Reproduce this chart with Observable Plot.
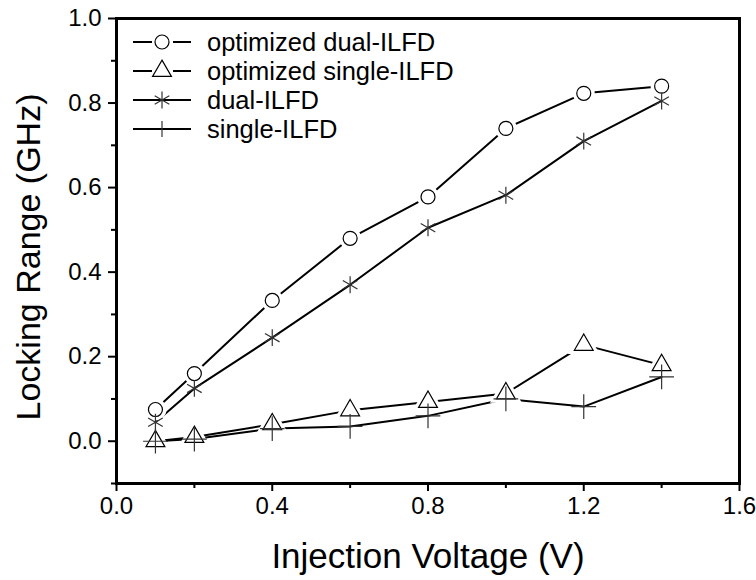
<!DOCTYPE html>
<html><head><meta charset="utf-8">
<script src="https://cdn.jsdelivr.net/npm/d3@7"></script>
<script src="https://cdn.jsdelivr.net/npm/@observablehq/plot@0.6"></script>
<style>
body{margin:0;background:#fff;font-family:"Liberation Sans",Arial,sans-serif;}
#wrap{position:relative;width:756px;height:580px;overflow:hidden;}
#legend{position:absolute;left:122px;top:28px;}
</style></head><body>
<div id="wrap"><div id="chart"></div><svg id="legend" width="350" height="125"></svg></div>
<script>
const voltage = [0.1, 0.2, 0.4, 0.6, 0.8, 1.0, 1.2, 1.4];
const optDual   = [0.075, 0.160, 0.333, 0.480, 0.578, 0.740, 0.823, 0.840];
const optSingle = [0.000, 0.010, 0.040, 0.073, 0.093, 0.113, 0.228, 0.180];
const dual      = [0.045, 0.125, 0.245, 0.370, 0.505, 0.582, 0.710, 0.805];
const single    = [0.000, 0.005, 0.030, 0.035, 0.060, 0.100, 0.082, 0.152];
const seriesNames = ["optimized dual-ILFD", "optimized single-ILFD", "dual-ILFD", "single-ILFD"];
const seriesValues = [optDual, optSingle, dual, single];
const seriesSymbols = ["circle", "triangle", "asterisk", "plus"];
const xMajor = [0, 0.4, 0.8, 1.2, 1.6];
const xMinor = [0.2, 0.6, 1.0, 1.4];
const yMajor = [0, 0.2, 0.4, 0.6, 0.8, 1.0];
const yMinor = [-0.1, 0.1, 0.3, 0.5, 0.7, 0.9];

const rows = seriesNames.map((name, i) => voltage.map((v, j) => ({series: name, symbol: seriesSymbols[i], x: v, y: seriesValues[i][j]})));
const hollow = rows.filter((r, i) => i < 2);
const font = '"Liberation Sans", Arial, sans-serif';

const chart = Plot.plot({
  width: 756, height: 580,
  marginLeft: 116, marginRight: 17, marginTop: 18, marginBottom: 97,
  style: {fontFamily: font, fontSize: "24px", color: "#000", background: "#fff", overflow: "visible"},
  x: {domain: [0, 1.6]},
  y: {domain: [-0.1, 1.0]},
  marks: [
    Plot.axisX({ticks: xMajor, tickSize: 8, tickPadding: 5, tickFormat: d3.format(".1f"), strokeWidth: 2, fontSize: 24, label: null}),
    Plot.axisX({ticks: xMinor, tickSize: 5, tickFormat: () => "", strokeWidth: 2, label: null}),
    Plot.axisY({ticks: yMajor, tickSize: 8, tickPadding: 7, tickFormat: d3.format(".1f"), strokeWidth: 2, fontSize: 24, label: null}),
    Plot.axisY({ticks: yMinor, tickSize: 5, tickFormat: () => "", strokeWidth: 2, label: null}),
    Plot.frame({stroke: "#000", strokeWidth: 3}),
    ...rows.map(r => Plot.line(r, {x: "x", y: "y", stroke: "#000", strokeWidth: 2})),
    ...hollow.map(r => Plot.dot(r, {x: "x", y: "y", symbol: "symbol", r: 8, fill: "#fff", stroke: "#fff", strokeWidth: 6})),
    ...hollow.map(r => Plot.dot(r, {x: "x", y: "y", symbol: "symbol", r: 7, fill: "#fff", stroke: "#000", strokeWidth: 1.2})),
    Plot.dot(rows[2], {x: "x", y: "y", symbol: "asterisk", r: 8, stroke: "#333", strokeWidth: 1.2}),
    Plot.dot(rows[3], {x: "x", y: "y", symbol: "plus", r: 8, stroke: "#333", strokeWidth: 1.2}),
    Plot.text(["Injection Voltage (V)"], {frameAnchor: "bottom", dy: 73, fontSize: 35, textAnchor: "middle", lineAnchor: "middle"}),
    Plot.text(["Locking Range (GHz)"], {frameAnchor: "left", dx: -87, dy: 6, rotate: -90, fontSize: 34, textAnchor: "middle", lineAnchor: "middle"})
  ]
});
document.getElementById("chart").appendChild(chart);

// legend
const leg = d3.select("#legend");
const symGen = {
  circle: d3.symbol(d3.symbolCircle, Math.PI * 49),
  triangle: d3.symbol(d3.symbolTriangle, Math.PI * 49),
  asterisk: d3.symbol(d3.symbolAsterisk, Math.PI * 64),
  plus: d3.symbol(d3.symbolPlus, Math.PI * 64)
};
seriesNames.forEach((name, i) => {
  const g = leg.append("g").attr("transform", `translate(0,${14 + i * 29})`);
  const sym = seriesSymbols[i];
  if (i < 2) {
    g.append("line").attr("x1", 11).attr("x2", 30).attr("stroke", "#000").attr("stroke-width", 2);
    g.append("line").attr("x1", 51).attr("x2", 69).attr("stroke", "#000").attr("stroke-width", 2);
    g.append("path").attr("d", symGen[sym]()).attr("transform", "translate(40,0)").attr("fill", "#fff").attr("stroke", "#000").attr("stroke-width", 1.2);
  } else {
    g.append("line").attr("x1", 11).attr("x2", 69).attr("stroke", "#000").attr("stroke-width", 2);
    if (sym === "asterisk") {
      g.append("path").attr("d", symGen[sym]()).attr("transform", "translate(40,0)").attr("fill", "none").attr("stroke", "#333").attr("stroke-width", 1.2);
    } else {
      g.append("line").attr("x1", 40).attr("x2", 40).attr("y1", -8).attr("y2", 8).attr("stroke", "#333").attr("stroke-width", 1.2);
    }
  }
  g.append("text").attr("x", 85).attr("y", 0).attr("dy", "0.35em").attr("font-size", 25.5).attr("font-family", font).text(name);
});
</script></body></html>
